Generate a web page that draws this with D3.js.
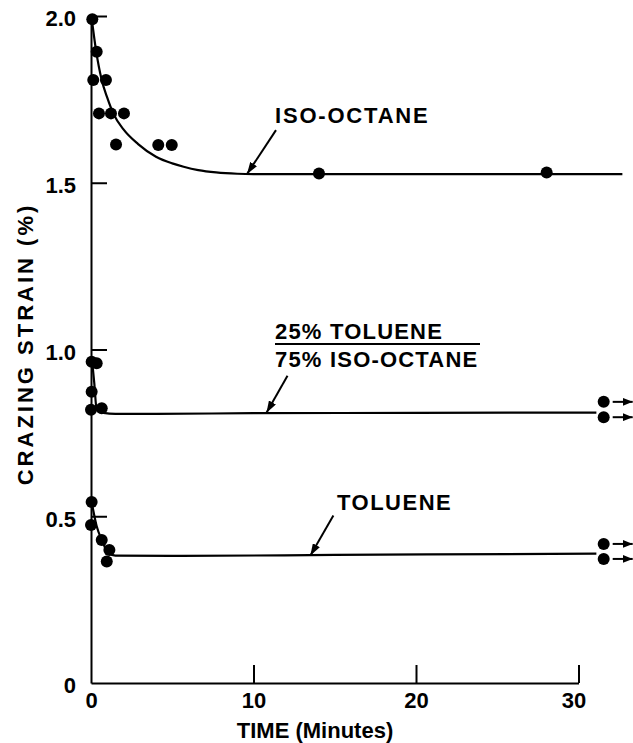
<!DOCTYPE html>
<html><head><meta charset="utf-8">
<script src="https://cdn.jsdelivr.net/npm/d3@7"></script>
<style>body{margin:0;background:#fff} text{font-family:"Liberation Sans",Arial,Helvetica,sans-serif;font-weight:bold;fill:#000}</style>
</head><body><svg id="c" width="633" height="743"></svg>
<script>
// ---- data ----
const xTicks = [0, 10, 20, 30];
const xTickLabels = ["0", "10", "20", "30"];
const yTicks = [0, 0.5, 1.0, 1.5, 2.0];
const yTickLabels = ["0", "0.5", "1.0", "1.5", "2.0"];
const xTitle = "TIME (Minutes)";
const yTitle = "CRAZING STRAIN (%)";

// measured points (time in minutes, strain in %)
const isoT = [0.08, 0.35, 0.14, 0.92, 0.49, 1.23, 2.03, 1.54, 4.14, 4.97, 14.03, 28.04];
const isoV = [1.99, 1.893, 1.808, 1.808, 1.708, 1.708, 1.708, 1.615, 1.613, 1.613, 1.528, 1.531];
const mixT = [0.04, 0.35, 0.04, 0.0, 0.66];
const mixV = [0.963, 0.959, 0.873, 0.819, 0.824];
const tolT = [0.04, 0.0, 0.66, 1.13, 0.97];
const tolV = [0.543, 0.474, 0.429, 0.399, 0.364];
// points beyond 30 min (with arrows)
const mixEndT = [31.55, 31.55];
const mixEndV = [0.843, 0.797];
const tolEndT = [31.55, 31.55];
const tolEndV = [0.417, 0.372];

// fitted curves
const isoCurveT = [0.05, 0.3, 0.66, 1.0, 1.37, 2.0, 2.9, 4.0, 5.0, 5.7, 6.6, 7.7, 9.0, 10.0, 32.7];
const isoCurveV = [1.99, 1.9, 1.808, 1.755, 1.708, 1.66, 1.616, 1.578, 1.558, 1.548, 1.538, 1.531, 1.527, 1.526, 1.526];
const mixCurveT = [0.05, 0.2, 0.35, 0.76, 1.5, 4, 10, 20, 31.1];
const mixCurveV = [0.975, 0.9, 0.82, 0.81, 0.807, 0.807, 0.809, 0.81, 0.811];
const tolCurveT = [0.05, 0.35, 0.7, 1.05, 1.5, 5, 15, 31.1];
const tolCurveV = [0.54, 0.47, 0.425, 0.39, 0.382, 0.381, 0.384, 0.388];

// labels with arrow tips (time, strain) on the curves
const labelNames = ["ISO-OCTANE", "TOLUENE"];
const arrowTipT = [9.6, 10.8, 13.5];
const arrowTipV = [1.526, 0.81, 0.382];

// ---- drawing ----
const svg = d3.select("#c");
const x = d3.scaleLinear().domain([0, 30]).range([91, 578.5]);
const y = d3.scaleLinear().domain([0, 2]).range([683, 16]);
const FS = 22;

// arrowhead marker
const defs = svg.append("defs");
defs.append("marker").attr("id", "ah").attr("viewBox", "0 0 12 8")
  .attr("refX", 12).attr("refY", 4).attr("markerWidth", 12).attr("markerHeight", 8)
  .attr("markerUnits", "userSpaceOnUse").attr("orient", "auto")
  .append("path").attr("d", "M0,0 L12,4 L0,8 Z").attr("fill", "#000");
defs.append("marker").attr("id", "ah2").attr("viewBox", "0 0 10 8")
  .attr("refX", 10).attr("refY", 4).attr("markerWidth", 10).attr("markerHeight", 8)
  .attr("markerUnits", "userSpaceOnUse").attr("orient", "auto")
  .append("path").attr("d", "M0,0 L10,4 L0,8 Z").attr("fill", "#000");

// axes
const yAxis = d3.axisLeft(y).tickValues(yTicks).tickFormat((d, i) => yTickLabels[i])
  .tickSizeInner(-16).tickSizeOuter(0).tickPadding(15);
const gy = svg.append("g").attr("transform", `translate(${x(0)},0)`).call(yAxis);
const xAxis = d3.axisBottom(x).tickValues(xTicks).tickFormat((d, i) => xTickLabels[i])
  .tickSizeInner(-18).tickSizeOuter(0).tickPadding(9);
const gx = svg.append("g").attr("transform", `translate(0,${y(0)})`).call(xAxis);
[gx, gy].forEach(g => {
  g.select(".domain").attr("stroke", "#000").attr("stroke-width", 2);
  g.selectAll(".tick line").attr("stroke", "#000").attr("stroke-width", 2);
  g.selectAll(".tick text").style("font-size", FS + "px").attr("fill", "#000")
    .style("font-family", '"Liberation Sans",Arial,sans-serif').style("font-weight", "bold");
});
gy.selectAll(".tick text").attr("dy", "0.45em");
gy.selectAll(".tick").filter(d => d === 0).select("line").remove();
gx.selectAll(".tick").filter(d => d === 0).select("line").remove();
gx.selectAll(".tick").filter(d => d === 30).select("text").attr("dx", -5);

// axis titles
svg.append("text").attr("x", 315).attr("y", 738).attr("text-anchor", "middle")
  .style("font-size", FS + "px").text(xTitle);
svg.append("text").attr("transform", "translate(33,344) rotate(-90)").attr("text-anchor", "middle")
  .style("font-size", FS + "px").style("letter-spacing", "3px").text(yTitle);

// curves
const line = d3.line().x(d => x(d[0])).y(d => y(d[1])).curve(d3.curveMonotoneX);
[[isoCurveT, isoCurveV], [mixCurveT, mixCurveV], [tolCurveT, tolCurveV]].forEach(([T, V]) => {
  svg.append("path").datum(T.map((t, i) => [t, V[i]])).attr("d", line)
    .attr("fill", "none").attr("stroke", "#000").attr("stroke-width", 2.2);
});

// points
const R = 6;
[[isoT, isoV], [mixT, mixV], [tolT, tolV], [mixEndT, mixEndV], [tolEndT, tolEndV]].forEach(([T, V]) => {
  svg.append("g").selectAll("circle").data(T.map((t, i) => [t, V[i]])).join("circle")
    .attr("cx", d => x(d[0])).attr("cy", d => y(d[1])).attr("r", R).attr("fill", "#000");
});
// small arrows after the end points
[[mixEndT, mixEndV], [tolEndT, tolEndV]].forEach(([T, V]) => {
  svg.append("g").selectAll("line").data(T.map((t, i) => [t, V[i]])).join("line")
    .attr("x1", d => x(d[0]) + 9).attr("x2", d => x(d[0]) + 29)
    .attr("y1", d => y(d[1])).attr("y2", d => y(d[1]))
    .attr("stroke", "#000").attr("stroke-width", 2).attr("marker-end", "url(#ah2)");
});

// labels + pointer arrows
const tailOff = [[29, -44], [21, -37], [23, -40]];
arrowTipT.forEach((t, i) => {
  svg.append("line").attr("x1", x(t) + tailOff[i][0]).attr("y1", y(arrowTipV[i]) + tailOff[i][1])
    .attr("x2", x(t)).attr("y2", y(arrowTipV[i]))
    .attr("stroke", "#000").attr("stroke-width", 2).attr("marker-end", "url(#ah)");
});
svg.append("text").attr("x", 275).attr("y", 123).style("font-size", FS + "px")
  .style("letter-spacing", "1.8px").text(labelNames[0]);
svg.append("text").attr("x", 275).attr("y", 339).style("font-size", FS + "px")
  .style("letter-spacing", "1.2px").text("25% TOLUENE");
svg.append("line").attr("x1", 275).attr("x2", 480).attr("y1", 344).attr("y2", 344)
  .attr("stroke", "#000").attr("stroke-width", 2);
svg.append("text").attr("x", 275).attr("y", 367).style("font-size", FS + "px")
  .style("letter-spacing", "1.2px").text("75% ISO-OCTANE");
svg.append("text").attr("x", 337).attr("y", 510).style("font-size", FS + "px")
  .style("letter-spacing", "1.5px").text(labelNames[1]);
</script></body></html>
